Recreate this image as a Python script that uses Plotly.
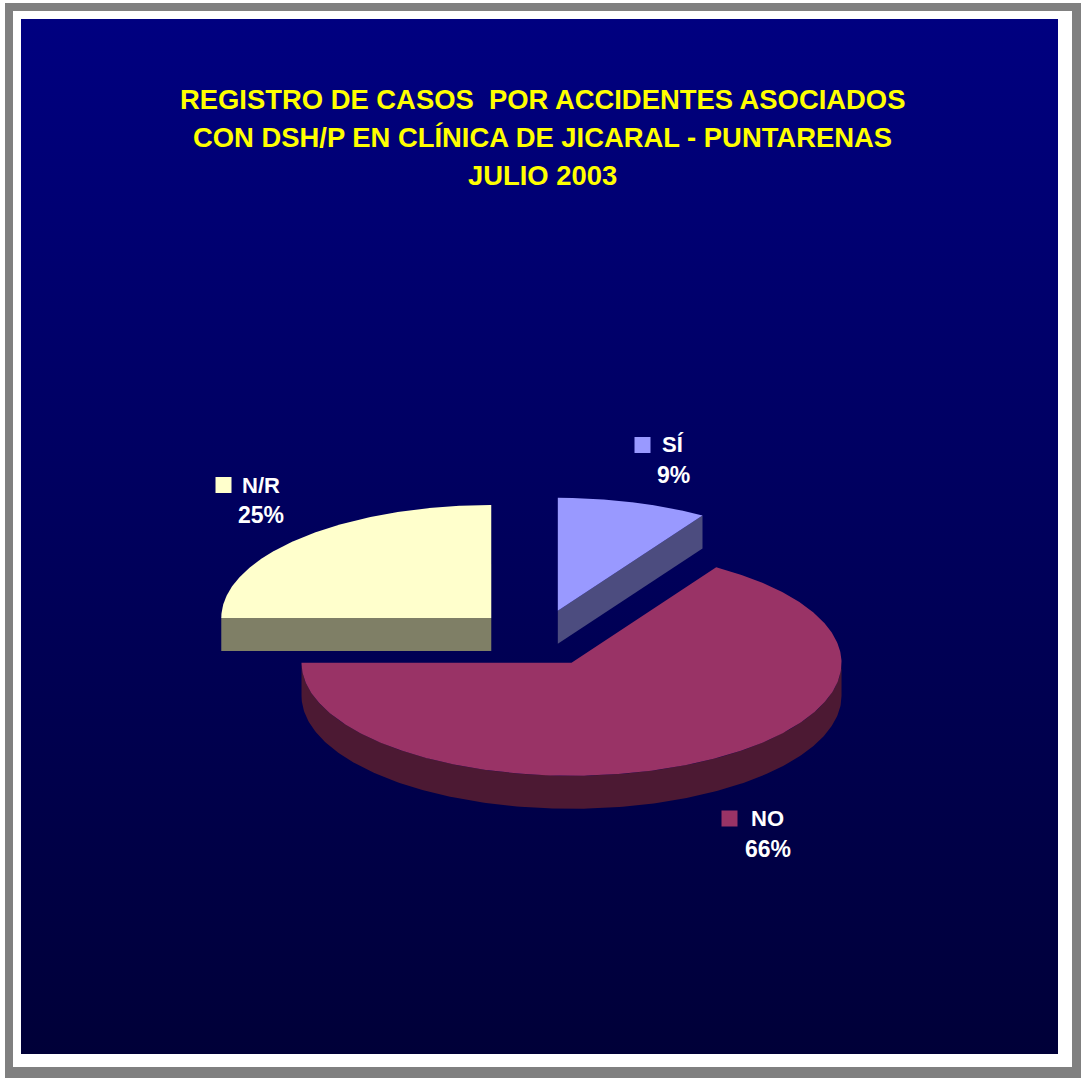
import numpy as np
import plotly.graph_objects as go

# ---- data -------------------------------------------------------------
CATEGORIES = ["SÍ", "NO", "N/R"]
PERCENTS = [9, 66, 25]
TOP_COLORS = ["#9999FF", "#993366", "#FFFFCC"]

TITLE_LINES = [
    "REGISTRO DE CASOS\u00a0 POR ACCIDENTES ASOCIADOS",
    "CON DSH/P EN CLÍNICA DE JICARAL - PUNTARENAS",
    "JULIO 2003",
]

# ---- layout constants (pixel-like axis units, y grows downward) -------
W, H = 1081, 1078
CX, CY = 539.0, 638.0      # pie centre
RX, RY = 270.0, 113.0      # ellipse radii of the tilted pie
DEPTH = 33.0               # thickness of the pie
EXPLODE = 0.25             # explosion as a fraction of the radius
START_ANGLE = 90.0         # first slice starts at 12 o'clock, clockwise

LABEL_POS = [(672.5, 444), (767.5, 818), (261, 485)]     # category name centres
PCT_POS = [(673, 475), (767.5, 849), (261, 515)]         # percentage centres
KEY_POS = [(642.5, 445), (729.5, 818.5), (223.5, 485)]   # legend key squares
TITLE_Y = [99, 137, 175]
TITLE_X = 542
FONT = "Liberation Sans, Arial, sans-serif"


def shade(hex_color, f=0.5):
    h = hex_color.lstrip("#")
    r, g, b = (int(h[i:i + 2], 16) for i in (0, 2, 4))
    return "#%02X%02X%02X" % (int(r * f), int(g * f), int(b * f))


def rim(cx, cy, th_deg, dz=0.0):
    th = np.radians(th_deg)
    return cx + RX * np.cos(th), cy - RY * np.sin(th) + dz


def poly_trace(xs, ys, color):
    xs = list(xs) + [xs[0]]
    ys = list(ys) + [ys[0]]
    return go.Scatter(
        x=xs, y=ys, mode="lines", fill="toself", fillcolor=color,
        line=dict(width=0, color=color), hoverinfo="skip", showlegend=False,
    )


fig = go.Figure()

# panel background with a vertical navy gradient
px0, py0, px1, py1 = 21, 19, 1058, 1054
fig.add_trace(go.Scatter(
    x=[px0, px1, px1, px0, px0], y=[py0, py0, py1, py1, py0],
    mode="lines", fill="toself", line=dict(width=0),
    fillgradient=dict(type="vertical", start=py0, stop=py1,
                      colorscale=[[0, "#000080"], [1, "#000038"]]),
    hoverinfo="skip", showlegend=False,
))

# ---- slice angular spans ----------------------------------------------
total = float(sum(PERCENTS))
slices = []
cum = 0.0
for name, pct, col in zip(CATEGORIES, PERCENTS, TOP_COLORS):
    a_hi = START_ANGLE - 360.0 * cum / total
    cum += pct
    a_lo = START_ANGLE - 360.0 * cum / total
    mid = 0.5 * (a_lo + a_hi)
    ox = EXPLODE * RX * np.cos(np.radians(mid))
    oy = -EXPLODE * RY * np.sin(np.radians(mid))
    slices.append(dict(name=name, pct=pct, color=col, lo=a_lo, hi=a_hi,
                       mid=mid, cx=CX + ox, cy=CY + oy))

# paint from back to front
order = sorted(slices, key=lambda s: -np.sin(np.radians(s["mid"])))

for s in order:
    cx, cy, lo, hi = s["cx"], s["cy"], s["lo"], s["hi"]
    side = shade(s["color"], 0.5)

    # visible outer wall: portion of the arc lying on the front half
    for k in range(-2, 2):
        f0, f1 = -180.0 + 360.0 * k, 0.0 + 360.0 * k
        t0, t1 = max(lo, f0), min(hi, f1)
        if t1 - t0 > 0.1:
            th = np.linspace(t0, t1, 240)
            xt, yt = rim(cx, cy, th)
            xb, yb = rim(cx, cy, th[::-1], DEPTH)
            fig.add_trace(poly_trace(np.r_[xt, xb], np.r_[yt, yb], side))

    # visible radial cut faces
    for a, vis in ((lo, np.cos(np.radians(lo)) > 1e-6),
                   (hi, np.cos(np.radians(hi)) < -1e-6)):
        if vis:
            rx_, ry_ = rim(cx, cy, a)
            fig.add_trace(poly_trace(
                [cx, rx_, rx_, cx], [cy, ry_, ry_ + DEPTH, cy + DEPTH], side))

    # top face
    th = np.linspace(lo, hi, 360)
    xt, yt = rim(cx, cy, th)
    fig.add_trace(poly_trace(np.r_[cx, xt], np.r_[cy, yt], s["color"]))

# ---- legend keys + data labels ----------------------------------------
fig.add_trace(go.Scatter(
    x=[p[0] for p in KEY_POS], y=[p[1] for p in KEY_POS], mode="markers",
    marker=dict(symbol="square", size=16, color=TOP_COLORS, line=dict(width=0)),
    hoverinfo="skip", showlegend=False,
))

annotations = []
for s, (lx, ly), (qx, qy) in zip(slices, LABEL_POS, PCT_POS):
    annotations.append(dict(
        x=lx, y=ly, xref="x", yref="y", text="<b>%s</b>" % s["name"],
        showarrow=False, xanchor="center", yanchor="middle",
        font=dict(family=FONT, size=22, color="white")))
    annotations.append(dict(
        x=qx, y=qy, xref="x", yref="y",
        text="<b>%d%%</b>" % round(100.0 * s["pct"] / total),
        showarrow=False, xanchor="center", yanchor="middle",
        font=dict(family=FONT, size=23, color="white")))

for line, ty in zip(TITLE_LINES, TITLE_Y):
    annotations.append(dict(
        x=TITLE_X, y=ty, xref="x", yref="y", text="<b>%s</b>" % line,
        showarrow=False, xanchor="center", yanchor="middle",
        font=dict(family=FONT, size=27.4, color="#FFFF00")))

# ---- frame ------------------------------------------------------------
shapes = [
    dict(type="rect", xref="x", yref="y", x0=5, y0=3, x1=1081, y1=1078,
         fillcolor="#808080", line=dict(width=0), layer="below"),
    dict(type="rect", xref="x", yref="y", x0=13, y0=11, x1=1072, y1=1067,
         fillcolor="#FFFFFF", line=dict(width=0), layer="below"),
]

fig.update_layout(
    width=W, height=H, margin=dict(l=0, r=0, t=0, b=0, pad=0),
    paper_bgcolor="white", plot_bgcolor="white",
    xaxis=dict(range=[0, W], visible=False, fixedrange=True),
    yaxis=dict(range=[H, 0], visible=False, fixedrange=True),
    shapes=shapes, annotations=annotations, showlegend=False,
)

fig.write_html("out.html", config={"displayModeBar": False})
